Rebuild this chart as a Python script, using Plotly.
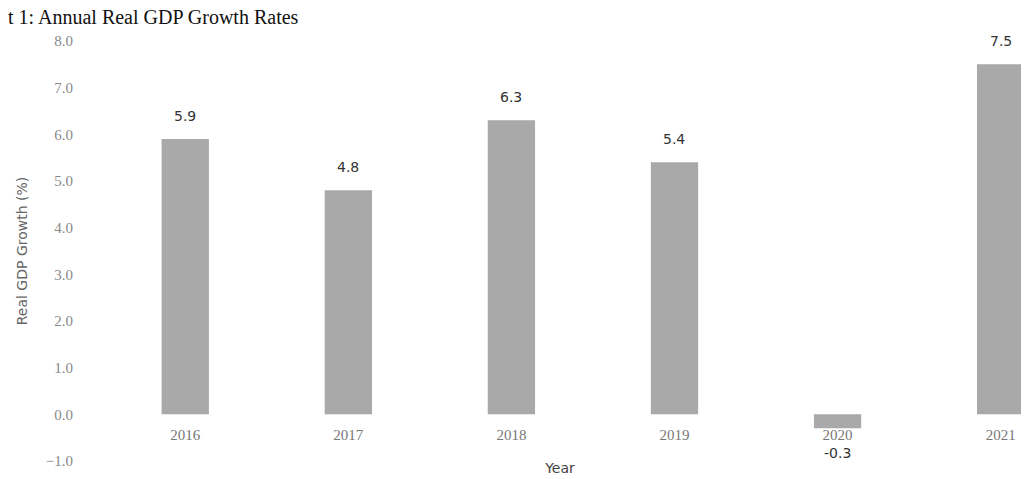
import plotly.graph_objects as go

years = ["2016", "2017", "2018", "2019", "2020", "2021"]
growth = [5.9, 4.8, 6.3, 5.4, -0.3, 7.5]
value_labels = ["5.9", "4.8", "6.3", "5.4", "-0.3", "7.5"]
y_ticks = [-1, 0, 1, 2, 3, 4, 5, 6, 7, 8]
title_text = "t 1: Annual Real GDP Growth Rates"
y_title = "Real GDP Growth (%)"
x_title = "Year"

fig = go.Figure()
fig.add_trace(go.Bar(
    x=years, y=growth, width=0.29,
    marker=dict(color="#a9a9a9", line=dict(width=0)),
    showlegend=False, hoverinfo="skip",
))

for i, (v, lab) in enumerate(zip(growth, value_labels)):
    if v >= 0:
        fig.add_annotation(xref="x", yref="y", x=i, y=v, text=lab, showarrow=False,
                           yanchor="bottom", yshift=13,
                           font=dict(family="DejaVu Sans", size=14, color="#333333"))
    else:
        fig.add_annotation(xref="x", yref="y", x=i, y=v, text=lab, showarrow=False,
                           yanchor="top", yshift=-15,
                           font=dict(family="DejaVu Sans", size=14, color="#333333"))

fig.add_annotation(xref="paper", yref="paper", x=-0.0805, y=1.057, xanchor="left", yanchor="middle",
                   text=title_text, showarrow=False,
                   font=dict(family="Liberation Serif", size=20, color="#111111"))

fig.update_layout(
    width=1029, height=479,
    margin=dict(l=75, r=0, t=33, b=26),
    plot_bgcolor="white", paper_bgcolor="white",
)
fig.update_xaxes(
    type="category", range=[-0.627, 5.223],
    anchor="free", position=1 / 9,
    showline=False, showgrid=False, zeroline=False,
    ticks="outside", ticklen=7, tickcolor="rgba(0,0,0,0)",
    tickfont=dict(family="Liberation Serif", size=15, color="#777777"),
    title=dict(text=x_title, font=dict(family="DejaVu Sans", size=14, color="#444444"), standoff=20),
)
fig.update_yaxes(
    range=[-1, 8], tickvals=y_ticks, tickformat=".1f",
    showline=False, showgrid=False, zeroline=False,
    ticks="outside", ticklen=6, tickcolor="rgba(0,0,0,0)",
    tickfont=dict(family="Liberation Serif", size=15, color="#8a8a8a"),
    title=dict(text=y_title, font=dict(family="DejaVu Sans", size=14, color="#666666"), standoff=14),
)

fig.write_html("out.html")
